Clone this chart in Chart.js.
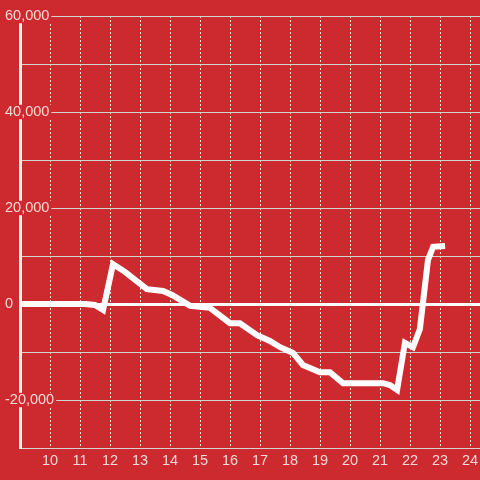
<!DOCTYPE html>
<html><head><meta charset="utf-8">
<script src="https://cdn.jsdelivr.net/npm/chart.js@4"></script>
<style>html,body{margin:0;padding:0;background:#cc2a2e;}#wrap{width:480px;height:480px;}</style>
</head><body><div id="wrap"><canvas id="c" width="480" height="480"></canvas></div>
<script>
const hours = [9, 10.5, 11.17, 11.5, 11.77, 12.1, 12.5, 13.23, 13.77, 14.07, 14.67, 15.33, 16, 16.33, 16.9, 17.33, 17.67, 18.1, 18.43, 19, 19.33, 19.77, 21.1, 21.33, 21.57, 21.83, 22.1, 22.33, 22.6, 22.77, 23.17];
const values = [0, 0, 0, -200, -1250, 8300, 6700, 3100, 2700, 1900, -400, -800, -4000, -4000, -6500, -7700, -9000, -10200, -12700, -14200, -14200, -16500, -16500, -16900, -17900, -8100, -9000, -5200, 9200, 11900, 12100];
const xTicks = [10, 11, 12, 13, 14, 15, 16, 17, 18, 19, 20, 21, 22, 23, 24];
const yTicks = [-30000, -20000, -10000, 0, 10000, 20000, 30000, 40000, 50000, 60000];
const yLabelled = [-20000, 0, 20000, 40000, 60000];

const BG = '#cc2a2e';
const TXT = 'rgba(255,255,255,0.82)';
const FONT = {family: 'Liberation Sans', size: 14.5};

new Chart(document.getElementById('c'), {
  type: 'line',
  data: {
    datasets: [{
      data: hours.map((h, i) => ({x: h, y: values[i]})),
      borderColor: '#ffffff',
      borderWidth: 6,
      pointRadius: 0,
      tension: 0,
      fill: false,
      borderJoinStyle: 'miter',
      borderCapStyle: 'butt'
    }]
  },
  options: {
    responsive: false,
    devicePixelRatio: 1,
    animation: false,
    layout: {padding: {top: 16, left: 0, right: 0, bottom: 0}},
    plugins: {legend: {display: false}, tooltip: {enabled: false}},
    scales: {
      x: {
        type: 'linear',
        min: 9,
        max: 24.3333,
        afterBuildTicks: s => { s.ticks = xTicks.map(v => ({value: v})); },
        afterFit: s => { s.height = 32; s.paddingLeft = 0; s.paddingRight = 0; },
        grid: {color: '#dde6e6', lineWidth: 1, drawTicks: false},
        border: {display: false, dash: [2, 2]},
        ticks: {color: TXT, font: FONT, padding: 4, maxRotation: 0, autoSkip: false}
      },
      y: {
        type: 'linear',
        min: -30000,
        max: 60000,
        afterBuildTicks: s => { s.ticks = yTicks.map(v => ({value: v})); },
        afterFit: s => { s.width = 20; s.paddingTop = 0; s.paddingBottom = 0; },
        grid: {
          drawTicks: false,
          color: ctx => (ctx.tick && ctx.tick.value === 0) ? '#ffffff' : '#d2d2d2',
          lineWidth: ctx => (ctx.tick && ctx.tick.value === 0) ? 3 : 1
        },
        border: {display: true, color: '#f2f2f2', width: 3},
        ticks: {
          mirror: true,
          padding: -15,
          color: TXT,
          font: Object.assign({lineHeight: 1}, FONT),
          autoSkip: false,
          callback: v => yLabelled.includes(v) ? v.toLocaleString('en-US') : '',
          showLabelBackdrop: true,
          backdropColor: ctx => (ctx.tick && yLabelled.includes(ctx.tick.value)) ? BG : 'rgba(0,0,0,0)',
          backdropPadding: {left: 3, right: 2, top: 0, bottom: 0}
        }
      }
    }
  }
});
</script></body></html>
